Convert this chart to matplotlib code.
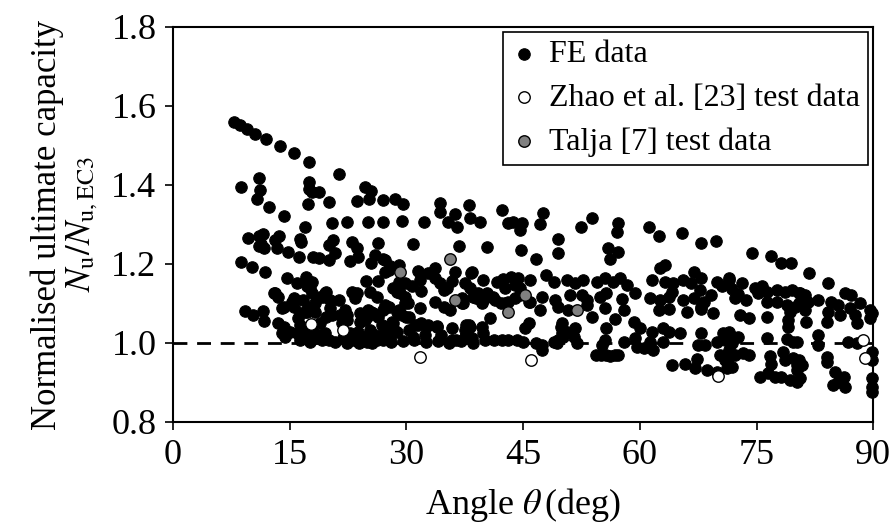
import matplotlib
matplotlib.use("Agg")
import matplotlib.pyplot as plt

plt.rcParams['font.family'] = ['Liberation Serif', 'DejaVu Serif']
plt.rcParams['mathtext.fontset'] = 'stix'

fe_points = [
    (7.8,1.560),(8.6,1.552),(9.5,1.541),(10.5,1.529),(12.0,1.516),(13.7,1.499),(15.6,1.480),(17.5,1.459),
    (8.7,1.394),(11.1,1.417),(11.2,1.387),(10.8,1.364),(12.3,1.343),(14.3,1.322),(17.0,1.293),(17.5,1.408),(17.5,1.390),(17.3,1.352),
    (9.6,1.265),(11.0,1.270),(11.6,1.275),(11.3,1.250),(11.7,1.240),(11.1,1.245),(13.1,1.260),(13.6,1.270),(13.3,1.240),(14.8,1.231),(16.3,1.263),(16.2,1.218),
    (8.7,1.206),(10.1,1.193),(11.8,1.179),(14.6,1.164),(15.9,1.153),(17.1,1.168),(17.2,1.143),
    (13.0,1.127),(13.5,1.117),(15.3,1.105),(15.6,1.092),(16.3,1.075),(14.0,1.089),
    (9.3,1.082),(10.3,1.071),(11.5,1.082),(11.7,1.056),
    (13.1,1.126),(14.2,1.092),(15.3,1.100),(15.5,1.113),
    (13.5,1.050),(14.2,1.041),(14.0,1.025),(15.0,1.029),(14.4,1.016),
    (16.1,1.063),(16.3,1.046),(15.9,1.025),(17.0,1.025),(17.0,1.012),(16.3,1.008),
    (16.7,1.109),(17.4,1.092),(17.0,1.079),(17.8,1.126),(18.3,1.100),(18.9,1.117),(19.5,1.126),
    (18.0,1.029),(18.9,1.020),(18.3,1.012),(19.5,1.025),(20.0,1.008),(19.1,1.008),
    (20.2,1.088),(20.4,1.071),(21.3,1.109),(20.2,1.109),
    (21.5,1.071),(22.1,1.084),(22.3,1.058),(21.7,1.050),
    (21.9,1.012),(22.8,1.025),(23.2,1.008),
    (23.6,1.126),(24.0,1.075),(24.0,1.054),(25.1,1.084),(25.7,1.075),(24.7,1.058),
    (23.8,1.029),(24.5,1.016),(25.3,1.033),(26.0,1.020),(24.9,1.003),(26.2,1.008),
    (25.3,1.130),(26.2,1.117),
    (26.8,1.046),(27.2,1.029),(27.9,1.016),(27.0,1.008),(28.3,1.050),(28.8,1.029),
    (27.2,1.096),(27.7,1.092),(28.8,1.079),(29.4,1.071),(29.8,1.100),(29.8,1.117),(28.8,1.130),
    (21.3,1.427),(17.8,1.383),(18.8,1.381),(20.0,1.358),(24.7,1.396),(25.5,1.386),(25.2,1.364),(23.6,1.360),(27.0,1.362),
    (20.4,1.305),(22.3,1.306),(25.1,1.307),(27.0,1.307),(16.5,1.256),
    (20.6,1.261),(20.1,1.248),(20.8,1.229),(20.1,1.210),(18.0,1.218),(18.8,1.216),
    (23.0,1.256),(23.6,1.240),(23.8,1.218),(22.8,1.208),(26.4,1.252),(26.0,1.223),(25.5,1.203),(27.0,1.212),(27.7,1.185),
    (17.8,1.155),(17.6,1.138),(24.8,1.157),(26.4,1.158),
    (19.7,1.130),(19.3,1.117),(23.0,1.130),(23.4,1.113),
    (17.2,1.079),(18.3,1.079),(19.7,1.067),(22.3,1.071),
    (25.5,1.079),(24.9,1.067),(27.0,1.084),(26.4,1.067),(18.9,1.050),
    (17.6,1.003),(20.8,1.003),(22.4,1.000),(25.6,1.000),(23.9,1.000),
    (28.5,1.364),(29.6,1.353),(34.3,1.355),(34.3,1.332),(36.2,1.327),(38.0,1.349),(38.2,1.316),
    (29.4,1.309),(32.3,1.307),(35.4,1.307),(36.5,1.294),(30.9,1.251),(36.7,1.245),
    (27.2,1.210),(27.9,1.195),(29.0,1.197),(27.2,1.180),
    (31.5,1.183),(32.8,1.178),(33.7,1.189),(36.2,1.180),(38.3,1.178),
    (29.0,1.155),(29.8,1.151),(30.7,1.143),(31.7,1.159),(28.3,1.140),
    (33.7,1.164),(34.3,1.151),(35.2,1.138),(35.8,1.158),(37.5,1.151),(38.2,1.138),
    (29.2,1.126),(31.9,1.132),
    (29.0,1.084),(33.7,1.105),(34.8,1.092),(35.6,1.084),(37.1,1.100),(38.6,1.117),
    (30.0,1.067),(28.1,1.054),(27.2,1.041),
    (28.3,1.037),(30.3,1.033),(31.5,1.046),(32.6,1.044),(33.9,1.044),(35.8,1.037),(38.0,1.046),
    (28.0,1.003),(29.5,1.005),(31.0,1.008),(32.5,1.003),(34.0,1.005),(35.5,1.000),(37.0,1.005),(38.5,1.000),
    (30.2,1.100),(31.7,1.088),(34.8,1.134),
    (37.3,1.100),(37.1,1.113),
    (38.8,1.122),(39.7,1.105),(40.3,1.117),(41.4,1.109),(42.7,1.100),(44.0,1.113),(44.6,1.122),(45.9,1.105),
    (47.4,1.117),(47.2,1.084),(49.1,1.109),(49.5,1.092),
    (30.3,1.067),(40.7,1.063),
    (31.1,1.046),(31.9,1.050),(32.8,1.046),(33.9,1.041),
    (37.7,1.046),(37.5,1.033),(39.7,1.041),(39.9,1.025),(45.7,1.050),(45.2,1.037),
    (30.9,1.016),(32.4,1.020),(34.5,1.020),(35.8,1.008),(36.4,1.008),(37.5,1.016),(38.4,1.012),(40.1,1.008),
    (41.2,1.008),(42.3,1.008),(43.1,1.008),(44.2,1.008),(45.0,1.003),(46.7,0.999),(47.4,0.995),(48.9,1.003),(50.0,1.025),
    (50.0,1.050),(49.5,1.008),
    (39.4,1.307),(42.3,1.337),(43.0,1.305),(43.7,1.307),(44.8,1.303),(44.6,1.286),(47.5,1.330),(47.2,1.301),
    (49.5,1.262),(49.5,1.227),(40.4,1.242),(44.7,1.235),(46.7,1.213),
    (38.4,1.180),(39.9,1.159),(41.6,1.155),(42.4,1.161),(43.5,1.168),(44.4,1.164),(45.9,1.159),(48.0,1.172),(48.9,1.155),
    (42.7,1.138),(44.0,1.147),(44.6,1.138),(39.2,1.126),(40.3,1.126),(41.1,1.117),
    (39.0,1.113),(39.7,1.100),(42.2,1.100),(43.1,1.105),(45.7,1.105),
    (38.2,1.041),(47.4,0.982),
    (53.8,1.316),(52.4,1.293),(57.2,1.305),(57.0,1.282),
    (55.9,1.240),(57.2,1.231),(56.2,1.212),
    (50.6,1.159),(51.7,1.151),(52.7,1.159),(51.0,1.122),(52.5,1.122),(53.2,1.109),
    (54.5,1.155),(55.5,1.164),(56.6,1.155),(57.5,1.164),(58.3,1.147),(59.4,1.126),(54.9,1.117),(55.7,1.126),
    (57.7,1.111),(57.9,1.084),
    (50.8,1.084),(53.2,1.096),(55.5,1.088),(53.8,1.067),(56.8,1.060),
    (49.9,1.041),(50.6,1.029),(51.7,1.037),(51.5,1.016),(51.9,1.000),(50.1,1.016),(49.3,1.000),
    (55.7,1.037),(59.2,1.054),(60.0,1.037),
    (55.5,1.008),(55.1,0.995),(57.9,1.003),(59.4,1.012),(59.6,0.991),
    (54.4,0.970),(55.0,0.970),(55.6,0.970),(56.2,0.968),(56.8,0.970),(57.2,0.970),
    (61.2,1.294),(62.4,1.271),(65.4,1.278),(67.9,1.253),(69.8,1.259),
    (62.6,1.189),(63.2,1.197),
    (61.5,1.159),(63.2,1.155),(64.3,1.151),(65.6,1.159),(66.9,1.180),(67.9,1.164),(66.6,1.151),(67.7,1.134),
    (69.9,1.155),(70.5,1.143),(71.4,1.159),
    (61.3,1.113),(62.6,1.109),(63.7,1.117),(64.1,1.130),(65.6,1.109),(66.9,1.113),(68.2,1.105),(69.2,1.122),(67.9,1.092),
    (62.4,1.084),(63.8,1.085),(66.0,1.079),(67.9,1.085),(69.4,1.077),
    (61.5,1.029),(63.0,1.037),(63.7,1.029),(65.2,1.025),
    (67.9,1.025),(67.5,0.995),(68.4,0.995),
    (60.5,0.987),(61.7,0.982),(61.3,1.003),(63.0,1.003),
    (69.9,1.003),(70.7,1.025),(71.4,1.008),
    (70.3,0.970),(71.4,0.965),
    (64.1,0.944),(65.8,0.948),(67.3,0.959),
    (67.1,0.936),(68.6,0.932),(69.9,0.927),
    (74.4,1.229),(76.9,1.220),(78.1,1.202),(79.4,1.202),
    (71.4,1.164),(73.1,1.153),(71.8,1.136),(72.6,1.124),
    (74.8,1.138),(75.7,1.143),(75.2,1.126),(76.3,1.130),(77.6,1.134),(78.7,1.130),(79.5,1.134),(80.6,1.126),(73.7,1.109),(72.2,1.113),
    (76.3,1.105),(77.6,1.105),(78.9,1.096),(79.9,1.092),(79.3,1.079),
    (72.9,1.071),(74.0,1.063),(76.3,1.066),(79.1,1.058),(79.1,1.041),
    (71.4,1.029),(72.0,1.016),(72.6,1.016),(70.9,1.008),(71.8,1.000),
    (76.3,1.012),(78.9,1.009),(79.7,1.003),
    (71.4,0.982),(72.2,0.970),(73.3,0.974),(74.0,0.970),(70.9,0.957),(71.8,0.940),(71.2,0.936),
    (76.7,0.967),(76.9,0.948),(78.4,0.978),(78.7,0.957),(79.7,0.961),(80.2,0.944),
    (75.4,0.915),(76.5,0.923),(77.4,0.915),(78.2,0.915),(79.3,0.906),(80.2,0.902),
    (81.7,1.176),(84.2,1.151),(86.4,1.127),(87.2,1.122),(88.3,1.102),
    (80.4,1.126),(81.2,1.122),(81.6,1.105),(80.4,1.100),(81.2,1.084),
    (82.9,1.109),(84.6,1.105),(85.5,1.096),(84.2,1.079),(85.7,1.071),
    (87.0,1.088),(87.7,1.071),(87.9,1.050),
    (81.4,1.054),(84.0,1.054),
    (89.6,1.084),(89.6,1.063),(89.8,1.077),
    (80.2,1.003),(82.9,1.020),(82.9,0.995),(86.8,1.003),(87.9,0.999),
    (89.8,0.978),(89.8,0.957),
    (80.4,0.957),(80.8,0.944),(80.2,0.932),
    (84.0,0.965),(84.0,0.953),
    (80.6,0.911),
    (85.1,0.927),(86.2,0.915),(85.5,0.902),(86.4,0.889),(84.8,0.894),
    (89.8,0.911),(89.8,0.889),(89.8,0.877),
]
fe_angle = [p[0] for p in fe_points]
fe_ratio = [p[1] for p in fe_points]

zhao_angle = [17.7, 21.8, 31.7, 46.0, 70.1, 88.7, 89.0]
zhao_ratio = [1.048, 1.032, 0.965, 0.957, 0.916, 1.008, 0.961]

talja_angle = [29.2, 35.6, 36.3, 43.0, 45.3, 51.9]
talja_ratio = [1.180, 1.212, 1.109, 1.078, 1.122, 1.084]

xticks = [0, 15, 30, 45, 60, 75, 90]
yticks = [0.8, 1.0, 1.2, 1.4, 1.6, 1.8]

fig = plt.figure(figsize=(8.92, 5.29), dpi=100)
ax = fig.add_axes([0.194, 0.2023, 0.785, 0.7467])

ax.plot([0, 90], [1.0, 1.0], linestyle=(0, (5, 3.5)), color='black', lw=2, zorder=1)

ms = 68
ax.scatter(fe_angle, fe_ratio, s=ms, facecolor='black', edgecolor='black', linewidths=0.8,
           label='FE data', zorder=2, clip_on=False)
ax.scatter(zhao_angle, zhao_ratio, s=ms, facecolor='white', edgecolor='black', linewidths=1.0,
           label='Zhao et al. [23] test data', zorder=3, clip_on=False)
ax.scatter(talja_angle, talja_ratio, s=ms, facecolor='#808080', edgecolor='black', linewidths=1.0,
           label='Talja [7] test data', zorder=4, clip_on=False)

ax.set_xlim(0, 90)
ax.set_ylim(0.8, 1.8)
ax.set_xticks(xticks)
ax.set_yticks(yticks)
ax.set_yticklabels([f"{v:.1f}" for v in yticks])
ax.tick_params(direction='out', length=6, width=1.2, labelsize=26, pad=6)
for sp in ax.spines.values():
    sp.set_linewidth(1.5)

ax.set_xlabel(r"Angle $\theta\,$(deg)", fontsize=26, labelpad=10)
ax.set_ylabel("Normalised ultimate capacity\n" + r"$N_\mathrm{u}/N_\mathrm{u,EC3}$", fontsize=25,
              linespacing=1.0, labelpad=8)

leg = ax.legend(loc='upper right', fontsize=23, frameon=True, fancybox=False, edgecolor='black',
                framealpha=1, borderaxespad=0.15, handlelength=0.8, handletextpad=0.4, borderpad=0.25,
                labelspacing=0.45, scatterpoints=1)
leg.get_frame().set_linewidth(1.2)

fig.savefig("out.png", dpi=100)
